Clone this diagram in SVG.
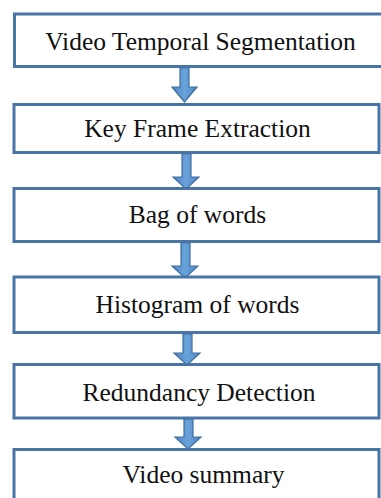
<svg xmlns="http://www.w3.org/2000/svg" width="381" height="498" viewBox="0 0 381 498">
<defs>
<linearGradient id="ag" x1="0" y1="0" x2="1" y2="0">
<stop offset="0" stop-color="#4f86c2"/>
<stop offset="0.5" stop-color="#6aa2dc"/>
<stop offset="1" stop-color="#4f86c2"/>
</linearGradient>
<style>
.box{fill:#ffffff;stroke:#4874a6;stroke-width:3}
.lbl{font-size:25.5px;fill:#111111;text-anchor:middle}
.arr{fill:url(#ag);stroke:#3f6f9f;stroke-width:1.2;stroke-linejoin:miter}
</style>
</defs>
<rect width="381" height="498" fill="#ffffff"/>
<g id="connectors">
<path class="arr" d="M180,68 L189,68 L189,87 L197,87 L184.5,102 L172,87 L180,87 Z"/>
<path class="arr" d="M182,154 L191,154 L191,177 L199,177 L186,189 L173,177 L182,177 Z"/>
<path class="arr" d="M181,243 L190,243 L190,266 L198,266 L185,278 L172,266 L181,266 Z"/>
<path class="arr" d="M183,334 L192,334 L192,353 L200,353 L187,365 L174,353 L183,353 Z"/>
<path class="arr" d="M184,419 L193,419 L193,437 L201,437 L188,449 L175,437 L184,437 Z"/>
</g>
<g font-family="'Liberation Serif', 'Times New Roman', 'DejaVu Serif', serif">
<g id="node1">
<rect class="box" x="14.5" y="14" width="380" height="52.5"/>
<text class="lbl" x="200.5" y="50">Video Temporal Segmentation</text>
</g>
<g id="node2">
<rect class="box" x="14" y="104.5" width="365" height="48"/>
<text class="lbl" x="197.5" y="137">Key Frame Extraction</text>
</g>
<g id="node3">
<rect class="box" x="14" y="188.5" width="365" height="53"/>
<text class="lbl" x="197.5" y="223">Bag of words</text>
</g>
<g id="node4">
<rect class="box" x="14" y="277" width="365" height="55.5"/>
<text class="lbl" x="197.5" y="313">Histogram of words</text>
</g>
<g id="node5">
<rect class="box" x="14" y="364.5" width="365" height="53.5"/>
<text class="lbl" x="199" y="401">Redundancy Detection</text>
</g>
<g id="node6">
<rect class="box" x="14" y="449.5" width="365" height="60"/>
<text class="lbl" x="203.5" y="483">Video summary</text>
</g>
</g>
</svg>
